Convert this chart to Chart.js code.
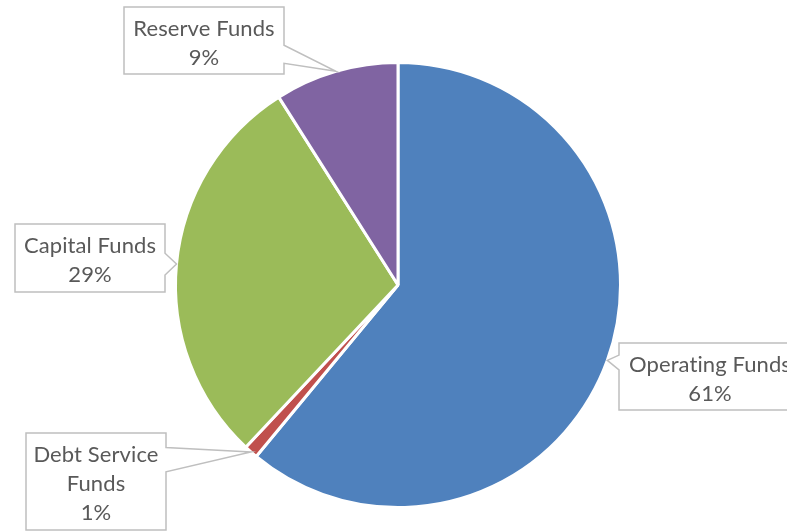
<!DOCTYPE html>
<html>
<head>
<meta charset="utf-8">
<script src="https://cdn.jsdelivr.net/npm/chart.js@4/dist/chart.umd.min.js"></script>
<style>
  html, body { margin: 0; padding: 0; background: #ffffff; }
  #wrap { width: 787px; height: 531px; }
</style>
</head>
<body>
<div id="wrap"><canvas id="pie" width="787" height="531"></canvas></div>
<script>
// data
const fundLabels = ['Operating Funds', 'Debt Service Funds', 'Capital Funds', 'Reserve Funds'];
const fundShares = [61, 1, 29, 9];
const fundColors = ['#4F81BD', '#C0504D', '#9BBB59', '#8064A2'];

// callout boxes: text lines, box rect, side the pointer leaves from, pointer base (fractions of box height)
const callouts = [
  { lines: ['Operating Funds', '61%'], box: [619, 343, 182, 67], side: 'left', base: [0.18, 0.40] },
  { lines: ['Debt Service', 'Funds', '1%'], box: [26, 433, 140, 97], side: 'right', base: [0.15, 0.40] },
  { lines: ['Capital Funds', '29%'], box: [15, 224, 150, 68], side: 'right', base: [0.43, 0.75] },
  { lines: ['Reserve Funds', '9%'], box: [124, 7, 160, 67], side: 'right', base: [0.57, 0.84] }
];

const LABEL_FONT = '22px Lato';
const LABEL_COLOR = '#595959';
const LINE_H = 29;

const calloutPlugin = {
  id: 'callouts',
  afterDatasetsDraw(chart) {
    const ctx = chart.ctx;
    const arcs = chart.getDatasetMeta(0).data;
    ctx.save();
    arcs.forEach((arc, i) => {
      const c = callouts[i];
      if (!c) return;
      const p = arc.getProps(['x', 'y', 'startAngle', 'endAngle', 'outerRadius'], true);
      const mid = (p.startAngle + p.endAngle) / 2;
      const tx = p.x + Math.cos(mid) * p.outerRadius;
      const ty = p.y + Math.sin(mid) * p.outerRadius;
      const [L, T, W, H] = c.box;
      const R = L + W, B = T + H;
      const b1 = T + H * c.base[0], b2 = T + H * c.base[1];

      ctx.beginPath();
      if (c.side === 'right') {
        ctx.moveTo(L, T); ctx.lineTo(R, T); ctx.lineTo(R, b1);
        ctx.lineTo(tx, ty); ctx.lineTo(R, b2); ctx.lineTo(R, B); ctx.lineTo(L, B);
      } else {
        ctx.moveTo(L, T); ctx.lineTo(R, T); ctx.lineTo(R, B); ctx.lineTo(L, B);
        ctx.lineTo(L, b2); ctx.lineTo(tx, ty); ctx.lineTo(L, b1);
      }
      ctx.closePath();
      ctx.fillStyle = '#ffffff';
      ctx.fill();
      ctx.lineWidth = 1.5;
      ctx.strokeStyle = '#BFBFBF';
      ctx.stroke();

      ctx.fillStyle = LABEL_COLOR;
      ctx.font = LABEL_FONT;
      ctx.letterSpacing = '0.1px'; // keeps Lato from joining "ti"
      ctx.textAlign = 'center';
      ctx.textBaseline = 'alphabetic';
      c.lines.forEach((txt, k) => {
        ctx.fillText(txt, L + W / 2, T + LINE_H + k * LINE_H);
      });
    });
    ctx.restore();
  }
};

new Chart(document.getElementById('pie'), {
  type: 'pie',
  data: {
    labels: fundLabels,
    datasets: [{
      data: fundShares,
      backgroundColor: fundColors,
      borderColor: '#ffffff',
      borderWidth: 3
    }]
  },
  options: {
    responsive: false,
    animation: false,
    layout: { padding: { left: 174, top: 61, right: 165, bottom: 22 } },
    plugins: {
      legend: { display: false },
      tooltip: { enabled: false }
    }
  },
  plugins: [calloutPlugin]
});
</script>
</body>
</html>
